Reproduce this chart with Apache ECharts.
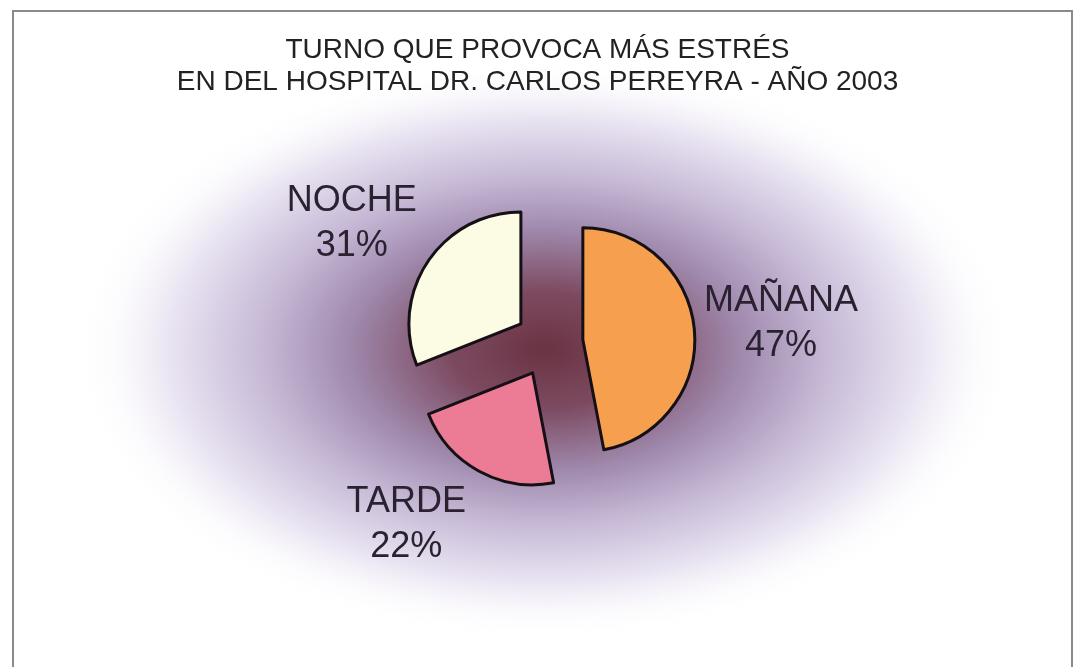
<!DOCTYPE html>
<html>
<head>
<meta charset="utf-8">
<script src="https://cdn.jsdelivr.net/npm/echarts@6/dist/echarts.min.js"></script>
<style>
  html, body { margin: 0; padding: 0; background: #ffffff; }
  #chart { width: 1075px; height: 667px; }
</style>
</head>
<body>
<div id="chart"></div>
<script>
// ---- data ----
const categories = ['MAÑANA', 'TARDE', 'NOCHE'];
const percents = [47, 22, 31];
const sliceColors = ['#f6a04f', '#ec7b95', '#fcfce4'];
const titleLines = ['TURNO QUE PROVOCA MÁS ESTRÉS', 'EN DEL HOSPITAL DR. CARLOS PEREYRA - AÑO 2003'];

const chart = echarts.init(document.getElementById('chart'), null, { renderer: 'canvas' });

// hidden label-line lengths that set where each outside label sits: [length, length2]
const labelReach = [
  [58, 24],   // MAÑANA
  [61, 38],   // TARDE
  [67, 16]    // NOCHE
];

const option = {
  backgroundColor: '#ffffff',
  animation: false,
  title: {
    text: titleLines.join('\n'),
    left: 'center',
    top: 29,
    textStyle: {
      fontFamily: 'Liberation Sans, Arial, sans-serif',
      fontSize: 28,
      fontWeight: 'normal',
      color: '#222222',
      lineHeight: 32
    }
  },
  graphic: [
    {
      type: 'circle',
      z: -10,
      silent: true,
      x: 545, y: 350,
      scaleX: 1.62, scaleY: 1,
      shape: { cx: 0, cy: 0, r: 290 },
      style: {
        fill: {
          type: 'radial', x: 0.5, y: 0.5, r: 0.5,
          colorStops: [
            { offset: 0, color: '#6b3343' },
            { offset: 0.2, color: '#7c4a60' },
            { offset: 0.42, color: '#a08aae' },
            { offset: 0.6, color: '#c6b9d6' },
            { offset: 0.8, color: '#e9e4f2' },
            { offset: 1, color: 'rgba(255,255,255,0)' }
          ]
        }
      }
    },
    {
      type: 'rect',
      z: -5,
      silent: true,
      shape: { x: 13, y: 11, width: 1059, height: 700 },
      style: { fill: 'none', stroke: '#8a8a8a', lineWidth: 2 }
    }
  ],
  series: [{
    type: 'pie',
    center: [549, 343],
    radius: 112,
    startAngle: 90,
    clockwise: true,
    selectedMode: 'multiple',
    selectedOffset: 34,
    avoidLabelOverlap: false,
    emphasis: { disabled: true, scale: false },
    itemStyle: { borderColor: '#151015', borderWidth: 3 },
    label: {
      show: true,
      position: 'outside',
      formatter: (p) => p.name + '\n' + p.value + '%',
      fontFamily: 'Liberation Sans, Arial, sans-serif',
      fontSize: 36,
      lineHeight: 45,
      color: '#2a2230',
      align: 'center'
    },
    labelLine: { show: false },
    labelLayout: () => ({ align: 'center', verticalAlign: 'middle' }),
    data: categories.map((c, i) => ({
      name: c,
      value: percents[i],
      selected: true,
      itemStyle: { color: sliceColors[i] },
      labelLine: { show: false, length: labelReach[i][0], length2: labelReach[i][1] }
    }))
  }]
};
chart.setOption(option);
</script>
</body>
</html>
